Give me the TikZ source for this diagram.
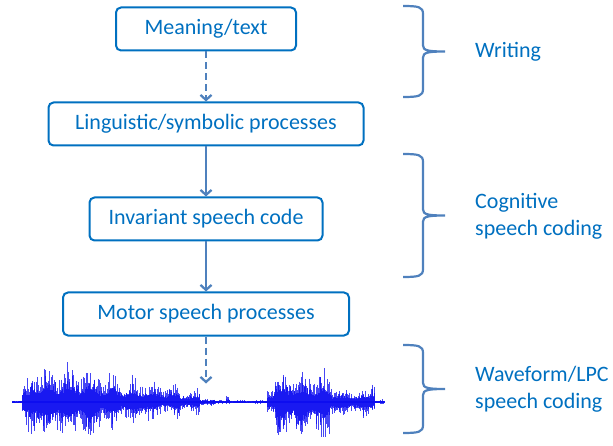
\documentclass[tikz,border=0pt]{standalone}
\usepackage{fontspec}
\setmainfont{Carlito}
\usepackage{tikz}
\usetikzlibrary{arrows.meta,positioning}
\definecolor{boxblue}{RGB}{0,112,192}
\definecolor{linkblue}{RGB}{79,129,189}
\definecolor{waveblue}{RGB}{10,10,240}

\begin{document}
\begin{tikzpicture}[
    x=1pt, y=-1pt,
    node distance=50pt,
    stage/.style={draw=boxblue, text=boxblue, line width=2pt, rounded corners=5pt, minimum height=43pt, font=\fontsize{22}{27}\selectfont},
    sidetext/.style={anchor=west, inner sep=0pt, text=boxblue, align=left, font=\fontsize{22}{27}\selectfont},
    arrow/.style={-{Straight Barb[length=5pt,width=11pt]}, draw=linkblue, line width=2.3pt},
    dasharrow/.style={arrow, dash pattern=on 7pt off 4pt},
    bracket/.style={draw=linkblue, line width=2.2pt},
    wave/.style={draw=waveblue, line width=0.9pt, opacity=0.75}
]
\useasboundingbox (0,0) rectangle (613,446);

\node[stage, minimum width=180pt] (meaning) at (206,29) {Meaning/text};
\node[stage, minimum width=315pt, below=of meaning] (linguistic) {Linguistic/symbolic processes};
\node[stage, minimum width=233pt, below=of linguistic] (invariant) {Invariant speech code};
\node[stage, minimum width=286pt, below=of invariant] (motor) {Motor speech processes};
\coordinate[below=47pt of motor] (wave);

\draw[dasharrow] (meaning) -- (linguistic);
\draw[arrow] (linguistic) -- (invariant);
\draw[arrow] (invariant) -- (motor);
\draw[dasharrow] (motor) -- (wave);

% speech waveform
\pgfmathsetseed{11}
\draw[waveblue, line width=1.2pt, opacity=0.8] (12,402) -- (384,402);
\foreach \a/\b/\u/\d in {12/21/2/2, 22/29/24/28, 30/59/42/44, 60/99/40/44,
    100/119/32/30, 120/149/26/24, 150/179/20/16, 180/199/14/12, 200/214/5/5,
    215/225/2/2, 226/229/9/4, 230/266/2/2, 267/274/20/24, 275/299/34/42,
    300/329/32/40, 330/339/18/22, 340/369/14/16, 370/374/26/14, 375/384/3/3}{
  \foreach \x in {\a,...,\b}{
    \foreach \s in {0,0.5}{
      \pgfmathsetmacro\env{0.8+0.2*sin(\x*17)}
      \pgfmathsetmacro\up{\u*\env*(0.3+0.85*rnd*rnd)}
      \pgfmathsetmacro\dn{\d*\env*(0.3+0.85*rnd*rnd)}
      \draw[wave] (\x+\s,{402-\up}) -- (\x+\s,{402+\dn});
    }
  }
}

% braces
\foreach \t/\b in {6/97, 154/277, 345/433}{
  \pgfmathsetmacro\m{(\t+\b)/2}
  \draw[bracket] (403,\t) .. controls (419,\t) and (423,\t+1) .. (423,\t+8)
    -- (423,\m-6) .. controls (423,\m-1) and (428,\m) .. (445,\m)
    .. controls (428,\m) and (423,\m+1) .. (423,\m+6)
    -- (423,\b-8) .. controls (423,\b-1) and (419,\b) .. (403,\b);
}

\node[sidetext] (writing) at (475,52) {Writing};
\node[sidetext] (cognitive) at (475,216) {Cognitive\\speech coding};
\node[sidetext] (lpc) at (475,389) {Waveform/LPC\\speech coding};
\end{tikzpicture}
\end{document}
